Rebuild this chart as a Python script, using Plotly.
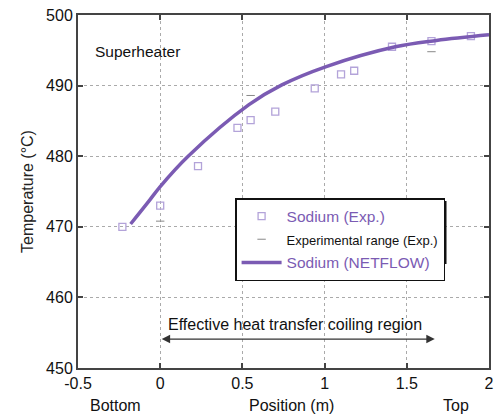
import plotly.graph_objects as go

# Data
exp_x = [-0.23, 0.0, 0.23, 0.47, 0.55, 0.70, 0.94, 1.10, 1.18, 1.41, 1.65, 1.89]
exp_y = [470.0, 473.0, 478.6, 484.0, 485.1, 486.3, 489.6, 491.6, 492.1, 495.5, 496.3, 497.0]
range_x = [0.0, 0.55, 1.65]
range_y = [470.8, 488.6, 494.8]
sim_x = [-0.18, -0.07, 0.0, 0.17, 0.54, 0.74, 1.01, 1.43, 1.68, 2.0]
sim_y = [470.4, 473.6, 475.7, 480.0, 487.3, 490.1, 492.7, 495.5, 496.4, 497.2]
x_ticks = [-0.5, 0, 0.5, 1, 1.5, 2]
x_ticklabels = ["-0.5", "0", "0.5", "1", "1.5", "2"]
y_ticks = [450, 460, 470, 480, 490, 500]

PURPLE = "#7b5bb3"
LIGHT = "#b3a3d9"
FONT = "Liberation Sans"

L, R, T, B = 78, 5, 15, 46
PW, PH = 499 - L - R, 414 - T - B

fig = go.Figure()
fig.add_trace(go.Scatter(
    x=exp_x, y=exp_y, mode="markers",
    name="<span style='color:#7b5bb3'>Sodium (Exp.)</span>",
    marker=dict(symbol="square-open", size=7, color=LIGHT, line=dict(width=1.3, color=LIGHT)),
))
fig.add_trace(go.Scatter(
    x=range_x, y=range_y, mode="markers",
    name="<span style='font-size:13px;color:#111'>Experimental range (Exp.)</span>",
    marker=dict(symbol="line-ew", size=6, color="#888", line=dict(width=1, color="#888")),
))
fig.add_trace(go.Scatter(
    x=sim_x, y=sim_y, mode="lines", line_shape="spline",
    name="<span style='color:#7b5bb3'>Sodium (NETFLOW)</span>",
    line=dict(color=PURPLE, width=3.5),
))

axis_common = dict(
    showline=True, linecolor="#444", linewidth=2, mirror="ticks",
    ticks="inside", ticklen=5, tickwidth=2, tickcolor="#444",
    showgrid=True, gridcolor="#aaa", griddash="dot", gridwidth=1,
    zeroline=False, tickfont=dict(size=16, color="#111", family=FONT),
)

fig.update_xaxes(range=[-0.5, 2], tickvals=x_ticks, ticktext=x_ticklabels, **axis_common)
fig.update_yaxes(range=[450, 500], tickvals=y_ticks,
                 title=dict(text="Temperature (°C)", font=dict(size=16, color="#222", family=FONT), standoff=8),
                 **axis_common)

# Legend shadow
fig.add_shape(type="rect", xref="paper", yref="paper",
              x0=(240 - L) / PW, x1=(451 - L) / PW,
              y0=(414 - B - 264) / PH, y1=(414 - B - 201) / PH,
              fillcolor="#111", line=dict(width=0), layer="above")

fig.update_layout(
    width=499, height=414,
    margin=dict(l=L, r=R, t=T, b=B),
    paper_bgcolor="white", plot_bgcolor="white",
    font=dict(family=FONT, size=16, color="#111"),
    showlegend=True,
    legend=dict(x=(237 - L) / PW, y=(414 - B - 198) / PH, xanchor="left", yanchor="top",
                bgcolor="white", bordercolor="#111", borderwidth=1.5,
                font=dict(size=15.5, family=FONT), tracegroupgap=0, itemwidth=40),
    annotations=[
        dict(text="Superheater", x=-0.41, y=494.8, xref="x", yref="y", showarrow=False,
             xanchor="left", font=dict(size=15.5, color="#111")),
        dict(text="Effective heat transfer coiling region", x=0.82, y=456.1, xref="x", yref="y",
             showarrow=False, font=dict(size=16, color="#111")),
        dict(x=1.67, y=454.1, ax=0.0, ay=454.1, xref="x", yref="y", axref="x", ayref="y",
             showarrow=True, arrowhead=2, arrowside="end+start", arrowsize=1.3, arrowwidth=1.3,
             arrowcolor="#333", text=""),
        dict(text="Bottom", x=-0.274, y=-0.105, xref="x", yref="paper", showarrow=False,
             yanchor="middle", font=dict(size=16, color="#111")),
        dict(text="Position (m)", x=0.80, y=-0.105, xref="x", yref="paper", showarrow=False,
             yanchor="middle", font=dict(size=16, color="#111")),
        dict(text="Top", x=1.80, y=-0.105, xref="x", yref="paper", showarrow=False,
             yanchor="middle", font=dict(size=16, color="#111")),
    ],
)

fig.write_html("out.html")
